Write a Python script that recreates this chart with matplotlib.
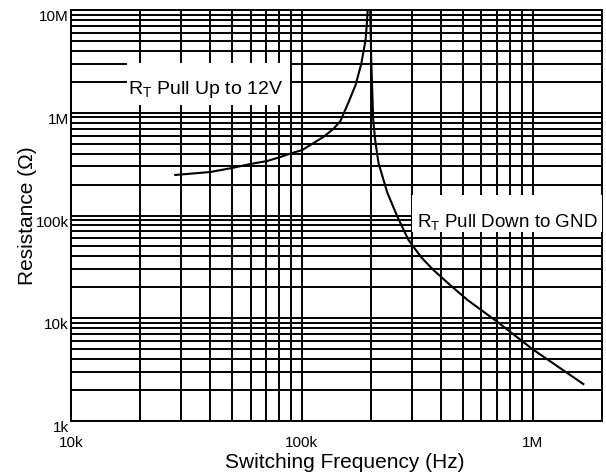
import matplotlib

matplotlib.use("Agg")
import matplotlib.pyplot as plt
import matplotlib.transforms as mtransforms
from matplotlib.patches import Rectangle

plt.rcParams["font.family"] = ["Liberation Sans", "DejaVu Sans"]
plt.rcParams["mathtext.default"] = "regular"

# RT pull up to 12V
pull_up_freq = [28.3e3, 40.1e3, 49.9e3, 59.8e3, 70.8e3, 80.7e3, 91e3, 100.5e3,
                124e3, 137e3, 147e3, 159e3, 171e3, 181e3, 189e3, 192e3, 193e3]
pull_up_res = [248e3, 265e3, 290e3, 317e3, 339e3, 371e3, 406e3, 434e3,
               581e3, 695e3, 831e3, 1.245e6, 1.86e6, 2.98e6, 5.1e6, 8.0e6, 10e6]

# RT pull down to GND
pull_down_freq = [198e3, 200e3, 204e3, 208e3, 215e3, 235e3, 260e3, 290e3,
                  330e3, 372e3, 440e3, 522e3, 705e3, 1.0e6, 1.66e6]
pull_down_res = [10e6, 3.26e6, 850e3, 543e3, 324e3, 166e3, 96.7e3, 57.8e3,
                 39e3, 29.5e3, 21e3, 15.1e3, 9.2e3, 5.0e3, 2.29e3]

x_ticks = [1e4, 1e5, 1e6]
x_labels = ["10k", "100k", "1M"]
y_ticks = [1e3, 1e4, 1e5, 1e6, 1e7]
y_labels = ["1k", "10k", "100k", "1M", "10M"]

fig = plt.figure(figsize=(6.06, 4.74), dpi=100)
ax = fig.add_axes([71 / 606, 53 / 474, 531 / 606, 411 / 474])

ax.set_xscale("log")
ax.set_yscale("log")
ax.set_xlim(1e4, 2e6)
ax.set_ylim(1e3, 1e7)

ax.grid(True, which="both", color="black", linewidth=1.4)
for spine in ax.spines.values():
    spine.set_linewidth(1.4)

ax.set_xticks(x_ticks, x_labels)
ax.set_yticks(y_ticks, y_labels)
ax.tick_params(which="both", length=0, labelsize=11)
ax.tick_params(axis="x", pad=11)
ax.tick_params(axis="y", pad=1.5)

# y tick labels sit a little below their grid line
shift = mtransforms.ScaledTranslation(0, -4 / 72, fig.dpi_scale_trans)
for label in ax.get_yticklabels():
    label.set_transform(label.get_transform() + shift)

ax.plot(pull_up_freq, pull_up_res, color="black", linewidth=1.5, zorder=3)
ax.plot(pull_down_freq, pull_down_res, color="black", linewidth=1.5, zorder=3)

ax.add_patch(Rectangle((0.1055, 0.769), 0.307, 0.102, transform=ax.transAxes,
                       facecolor="white", edgecolor="none", zorder=2.6))
ax.text(0.107, 0.796, "R$_T$ Pull Up to 12V", transform=ax.transAxes,
        fontsize=14, ha="left", va="baseline", zorder=4)

ax.add_patch(Rectangle((0.642, 0.460), 0.358, 0.090, transform=ax.transAxes,
                       facecolor="white", edgecolor="none", zorder=2.6))
ax.text(0.652, 0.473, "R$_T$ Pull Down to GND", transform=ax.transAxes,
        fontsize=13.5, ha="left", va="baseline", zorder=4)

ax.set_xlabel("Switching Frequency (Hz)", fontsize=15)
ax.set_ylabel("Resistance (Ω)", fontsize=15)
ax.xaxis.set_label_coords(0.515, -0.078)
ax.yaxis.set_label_coords(-0.064, 0.5)

fig.savefig("out.png", dpi=100)
